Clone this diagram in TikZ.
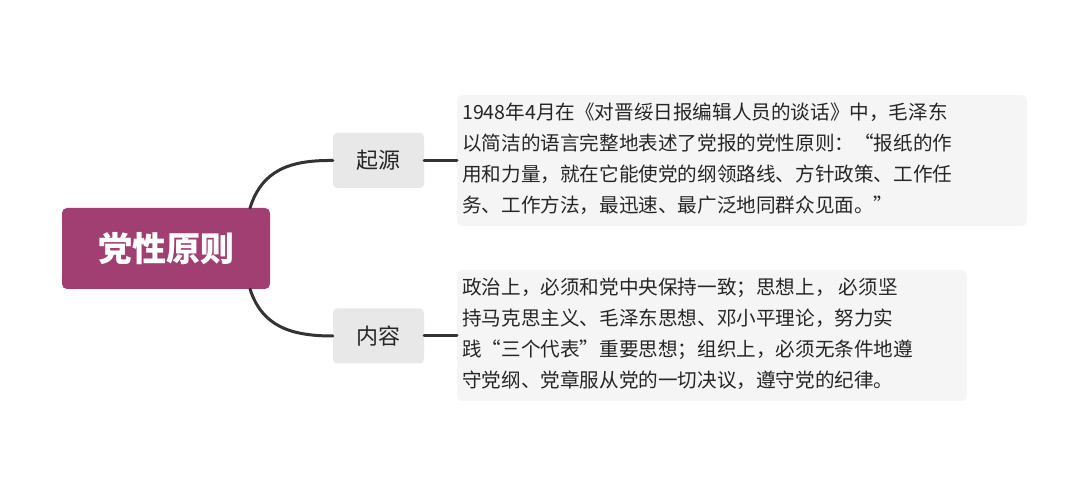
\documentclass[tikz,border=0pt]{standalone}
\usepackage{fontspec}
\setmainfont{Noto Sans CJK SC}
\begin{document}
\begin{tikzpicture}[x=1pt,y=-1pt,
  conn/.style={draw=black!80,line width=3pt,line cap=round},
  sub/.style={fill=black!9,rounded corners=4pt,minimum width=91pt,minimum height=55pt,font=\fontsize{22}{26}\selectfont,text=black!85},
  txt/.style={fill=black!4,rounded corners=5pt,anchor=north west,align=left,inner sep=0pt,font=\fontsize{19.6}{31}\selectfont,text=black!85}]
\useasboundingbox (0,0) rectangle (1080,486);
\node[fill={rgb,255:red,162;green,63;blue,114},rounded corners=5pt,minimum width=208pt,minimum height=81pt,text=white,font=\fontsize{34}{38}\selectfont\bfseries] (root) at (166,248.5) {党性原则};
\node[sub] (a) at (378.5,160.5) {起源};
\node[sub] (b) at (378.5,336) {内容};
\path[txt] (457,95) rectangle (1027,226);
\path[txt] (457,270) rectangle (967,401);
\node[txt,fill=none] (ta) at (462,103) {1948年4月在《对晋绥日报编辑人员的谈话》中，毛泽东\\以简洁的语言完整地表述了党报的党性原则：“报纸的作\\用和力量，就在它能使党的纲领路线、方针政策、工作任\\务、工作方法，最迅速、最广泛地同群众见面。”};
\node[txt,fill=none] (tb) at (462,278) {政治上，必须和党中央保持一致；思想上， 必须坚\\持马克思主义、毛泽东思想、邓小平理论，努力实\\践“三个代表”重要思想；组织上，必须无条件地遵\\守党纲、党章服从党的一切决议，遵守党的纪律。};
\draw[conn] (250,208) .. controls (262,170) and (290,160) .. (a.west);
\draw[conn] (250,289) .. controls (262,326) and (290,336) .. (b.west);
\draw[conn] (a.east) -- (457,160.5);
\draw[conn] (b.east) -- (457,336);
\end{tikzpicture}
\end{document}
